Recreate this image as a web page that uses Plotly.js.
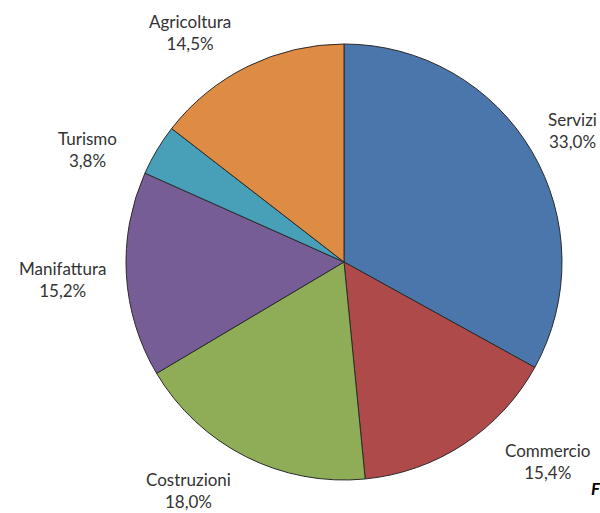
<!DOCTYPE html>
<html>
<head>
<meta charset="utf-8">
<script src="https://cdn.plot.ly/plotly-3.0.1.min.js"></script>
<style>html,body{margin:0;padding:0;background:#fff;}#chart{width:600px;height:513px;}</style>
</head>
<body>
<div id="chart"></div>
<script>
const categories = ["Servizi", "Commercio", "Costruzioni", "Manifattura", "Turismo", "Agricoltura"];
const shares = [33.0, 15.4, 18.0, 15.2, 3.8, 14.5];
const shareLabels = ["33,0%", "15,4%", "18,0%", "15,2%", "3,8%", "14,5%"];

const colors = ["#4A76AC", "#AE4B4A", "#8EAD56", "#775D96", "#47A0B8", "#DE8B43"];
// label centres in pixels (layout only)
const labelPos = [[572,130],[547,461],[188,490],[62,279],[87,149],[190,32]];

const W = 600, H = 513;
const annotations = categories.map((c, i) => ({
  xref: "paper", yref: "paper",
  x: labelPos[i][0] / W, y: 1 - labelPos[i][1] / H,
  xanchor: "center", yanchor: "middle",
  text: c + "<br>" + shareLabels[i],
  showarrow: false,
  align: "center",
  font: {family: "Lato, 'Open Sans', sans-serif", size: 17, color: "#333333"}
}));
annotations.push({
  xref: "paper", yref: "paper",
  x: 589 / W, y: 1 - 488 / H, xanchor: "left", yanchor: "middle",
  text: "<b><i>F</i></b>", showarrow: false,
  font: {family: "Lato, sans-serif", size: 17, color: "#000"}
});

const cx = 344, cy = 262, R = 218;
const data = [{
  type: "pie",
  labels: categories,
  values: shares,
  sort: false,
  direction: "clockwise",
  rotation: 0,
  textinfo: "none",
  hoverinfo: "label+percent",
  marker: {colors: colors, line: {color: "#2b2b2b", width: 1}},
  domain: {x: [(cx - R) / W, (cx + R) / W], y: [1 - (cy + R) / H, 1 - (cy - R) / H]},
  showlegend: false
}];

const layout = {
  width: W, height: H,
  margin: {l: 0, r: 0, t: 0, b: 0},
  paper_bgcolor: "#ffffff",
  showlegend: false,
  annotations: annotations
};
Plotly.newPlot("chart", data, layout, {displayModeBar: false, staticPlot: true});
</script>
</body>
</html>
